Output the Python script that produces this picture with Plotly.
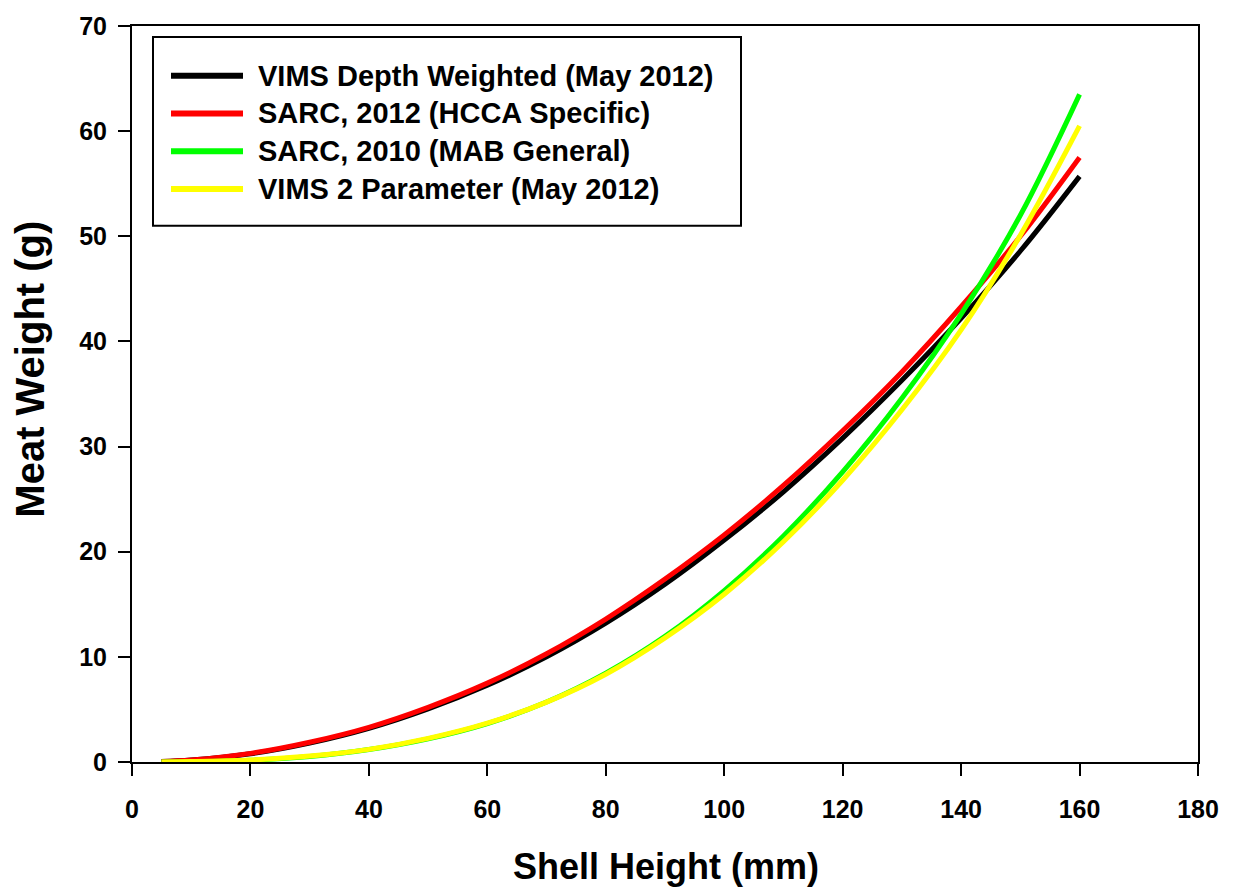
import plotly.graph_objects as go

# Shell height (mm)
shell_height = [5, 10, 20, 30, 40, 50, 60, 70, 80, 90, 100, 110, 120, 130, 140, 150, 160]

# Meat weight (g) predicted by each shell height / meat weight relationship
vims_depth_weighted = [0.04, 0.18, 0.78, 1.80, 3.20, 5.05, 7.30, 10.0, 13.2, 16.9, 21.1, 25.7, 30.8, 36.3, 42.2, 48.6, 55.7]
sarc_2012_hcca = [0.04, 0.19, 0.82, 1.88, 3.30, 5.20, 7.50, 10.3, 13.6, 17.4, 21.6, 26.3, 31.5, 37.1, 43.3, 50.0, 57.5]
sarc_2010_mab = [0.01, 0.03, 0.17, 0.52, 1.18, 2.20, 3.65, 5.70, 8.45, 11.95, 16.3, 21.5, 27.6, 34.6, 42.6, 52.0, 63.5]
vims_2_parameter = [0.01, 0.04, 0.19, 0.56, 1.20, 2.25, 3.70, 5.70, 8.35, 11.8, 15.95, 20.95, 26.8, 33.5, 41.1, 50.1, 60.5]

series_names = [
    "VIMS Depth Weighted (May 2012)",
    "SARC, 2012 (HCCA Specific)",
    "SARC, 2010 (MAB General)",
    "VIMS 2 Parameter (May 2012)",
]
series_values = [vims_depth_weighted, sarc_2012_hcca, sarc_2010_mab, vims_2_parameter]
series_colors = ["#000000", "#ff0000", "#00ff00", "#ffff00"]

x_ticks = [0, 20, 40, 60, 80, 100, 120, 140, 160, 180]
y_ticks = [0, 10, 20, 30, 40, 50, 60, 70]

FONT = "Liberation Sans, Arial, sans-serif"
W, H = 1233, 888
M_L, M_R, M_T, M_B = 132, 35, 21, 126

fig = go.Figure()
for name, vals, col in zip(series_names, series_values, series_colors):
    fig.add_trace(go.Scatter(
        x=shell_height, y=vals, name=name, mode="lines",
        line=dict(color=col, width=5, shape="spline", smoothing=1),
        showlegend=False,
    ))

axis_common = dict(
    showline=True, linecolor="black", linewidth=2, mirror=True,
    ticks="outside", ticklen=12, tickwidth=2, tickcolor="black",
    showgrid=False, zeroline=False,
    tickfont=dict(family=FONT, size=25, color="black", weight="bold"),
)
fig.update_xaxes(range=[0, 180], tickvals=x_ticks, ticklabelstandoff=12, **axis_common)
fig.update_yaxes(range=[0, 70], tickvals=y_ticks, ticklabelstandoff=6, **axis_common)

# pixel -> paper helpers for the legend box and axis titles
pw = W - M_L - M_R
ph = H - M_T - M_B


def px(x):
    return (x - M_L) / pw


def py(y):
    return (H - M_B - y) / ph


shapes = [dict(type="rect", xref="paper", yref="paper",
               x0=px(153), x1=px(741), y0=py(222), y1=py(32),
               line=dict(color="black", width=2), fillcolor="white", layer="above")]
annotations = []
row_y = [71, 109, 147, 185]
for name, col, ry in zip(series_names, series_colors, row_y):
    shapes.append(dict(type="line", xref="paper", yref="paper",
                       x0=px(171), x1=px(243), y0=py(ry), y1=py(ry),
                       line=dict(color=col, width=6), layer="above"))
    annotations.append(dict(text=name, xref="paper", yref="paper",
                            x=px(256), y=py(ry), xanchor="left", yanchor="middle",
                            showarrow=False,
                            font=dict(family=FONT, size=29, color="black", weight="bold")))

annotations.append(dict(text="Shell Height (mm)", xref="paper", yref="paper",
                        x=px(666), y=py(867), xanchor="center", yanchor="middle",
                        showarrow=False,
                        font=dict(family=FONT, size=36, color="black", weight="bold")))
annotations.append(dict(text="Meat Weight (g)", xref="paper", yref="paper",
                        x=px(30), y=py(367), xanchor="center", yanchor="middle",
                        textangle=-90, showarrow=False,
                        font=dict(family=FONT, size=40, color="black", weight="bold")))

fig.update_layout(
    width=W, height=H,
    margin=dict(l=M_L, r=M_R, t=M_T, b=M_B),
    paper_bgcolor="white", plot_bgcolor="white",
    shapes=shapes, annotations=annotations,
)

fig.write_html("out.html")
